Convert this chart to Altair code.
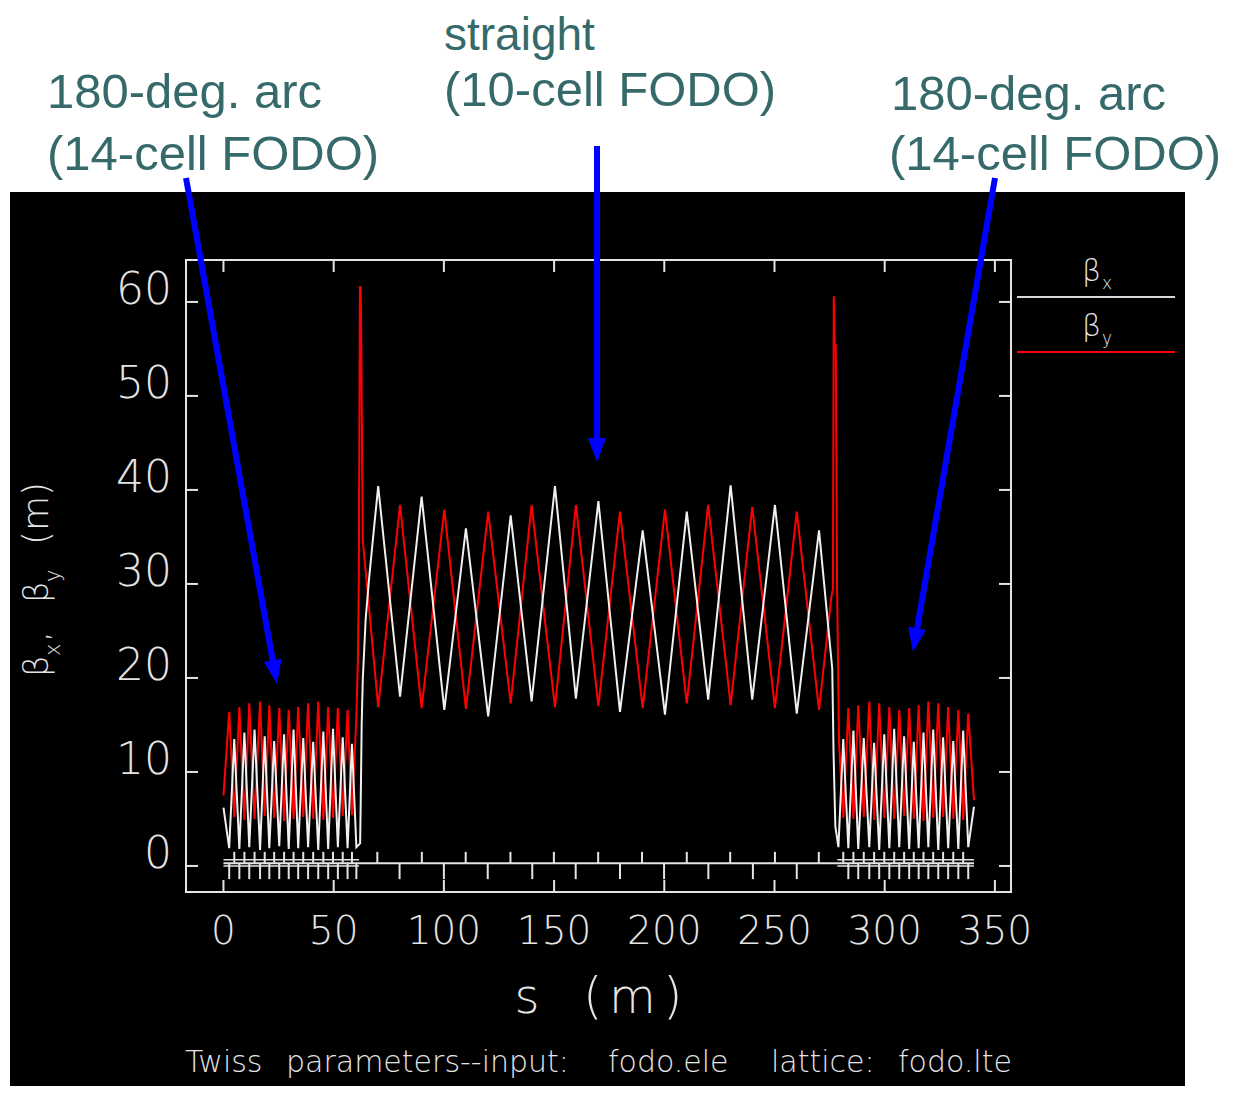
import math
import altair as alt
import pandas as pd

# ---------------- values ----------------
x_ticks = [0, 50, 100, 150, 200, 250, 300, 350]
y_ticks = [0, 10, 20, 30, 40, 50, 60]

# beta_x (white), s in m, beta in m
bx_s = [0.0, 2.6, 4.9, 7.2, 9.5, 11.7, 14.1, 16.6, 18.7, 20.8, 23.0, 25.3, 27.5, 29.6,
        31.8, 33.9, 36.2, 38.4, 40.7, 43.0, 45.3, 47.5, 49.7, 51.9, 54.1, 56.3, 58.3, 60.3,
        62.0, 62.3, 62.7, 63.2, 64.5, 66.0, 68.2,
        70.2, 80.1, 89.9, 100.2, 110.0, 120.1, 130.3, 139.8, 150.4, 159.9, 170.1,
        179.9, 190.2, 200.3, 210.2, 219.9, 230.1, 239.9, 250.2, 260.1, 270.2,
        276.2, 276.8, 277.6, 279.0,
        281.2, 283.5, 285.8, 288.0, 290.5, 293.0, 295.2, 297.5, 299.8, 302.1, 304.3,
        306.6, 308.8, 311.1, 313.2, 315.4, 317.6, 319.8, 322.0, 324.3, 326.5, 328.8,
        331.1, 333.4, 335.6, 337.9, 340.5]
bx_v = [6.2, 1.9, 13.5, 1.8, 14.2, 2.0, 14.5, 1.7, 13.8, 1.9, 13.3, 2.1, 14.0, 1.8,
        14.5, 1.9, 13.6, 2.0, 13.2, 1.7, 14.3, 1.8, 14.6, 2.0, 13.7, 1.9, 13.0, 2.0,
        2.4, 7.4, 15.0, 19.8, 26.2, 30.4, 35.7,
        40.4, 18.0, 39.3, 16.6, 35.9, 15.9, 37.3, 17.5, 40.4, 17.8, 38.8,
        16.4, 35.7, 16.1, 37.7, 17.7, 40.5, 17.7, 38.4, 16.2, 35.7,
        21.0, 12.0, 4.2, 2.0,
        13.5, 1.9, 14.4, 1.8, 13.6, 2.0, 13.1, 1.7, 14.0, 1.9, 14.6,
        2.0, 13.8, 1.8, 13.2, 1.9, 14.2, 2.0, 14.5, 1.7, 13.7, 1.9,
        13.3, 1.8, 14.4, 2.0, 6.3]

# beta_y (red)
by_s = [0.0, 2.6, 4.9, 7.2, 9.5, 11.7, 14.1, 16.6, 18.7, 20.8, 23.0, 25.3, 27.5, 29.6,
        31.8, 33.9, 36.2, 38.4, 40.7, 43.0, 45.3, 47.5, 49.7, 51.9, 54.1, 56.3, 58.3, 60.3,
        61.0, 61.4, 61.9, 62.2, 62.4, 63.2,
        70.2, 80.1, 89.9, 100.2, 110.0, 120.1, 130.3, 139.8, 150.4, 159.9, 170.1,
        179.9, 190.2, 200.3, 210.2, 219.9, 230.1, 239.9, 250.2, 260.1, 270.2,
        275.8, 276.5, 276.9, 277.3, 277.8, 278.4, 279.3,
        281.2, 283.5, 285.8, 288.0, 290.5, 293.0, 295.2, 297.5, 299.8, 302.1, 304.3,
        306.6, 308.8, 311.1, 313.2, 315.4, 317.6, 319.8, 322.0, 324.3, 326.5, 328.8,
        331.1, 333.4, 335.6, 337.9, 340.5]
by_v = [7.5, 16.4, 5.2, 16.9, 4.9, 17.3, 5.0, 17.5, 5.3, 17.1, 5.1, 16.8, 4.8, 16.6,
        5.0, 16.9, 5.2, 17.3, 5.0, 17.5, 4.9, 16.9, 5.1, 16.8, 5.3, 16.6, 5.4, 15.9,
        22.0, 30.1, 61.6, 61.6, 59.0, 34.7,
        16.9, 38.4, 16.8, 37.9, 16.7, 37.7, 17.3, 38.4, 16.9, 38.4, 17.0,
        37.7, 16.8, 37.9, 17.3, 38.4, 17.1, 38.2, 16.8, 37.7, 16.6,
        28.6, 29.5, 60.6, 55.4, 55.4, 29.4, 13.0,
        5.1, 16.8, 5.0, 17.1, 5.2, 17.5, 4.9, 17.3, 5.1, 16.9, 5.0,
        16.6, 5.3, 16.8, 5.0, 17.1, 4.8, 17.5, 5.1, 17.3, 5.2, 16.9,
        5.0, 16.6, 4.9, 16.2, 7.0]

# lattice profile (element positions, m)
qf_s = [4.9, 9.5, 14.1, 18.7, 23.0, 27.5, 31.8, 36.2, 40.7, 45.3, 49.7, 54.1, 58.3,
        69.8, 90.0, 109.9, 130.2, 149.9, 170.0, 189.9, 210.2, 229.9, 250.2, 270.1,
        281.2, 285.8, 290.5, 295.2, 299.8, 304.3, 308.8, 313.2, 317.6, 322.0, 326.5, 331.1, 335.6]
qd_s = [2.6, 7.2, 11.7, 16.6, 20.8, 25.3, 29.6, 33.9, 38.4, 43.0, 47.5, 51.9, 56.3, 60.3,
        79.9, 100.0, 119.9, 140.1, 159.8, 179.9, 199.9, 220.0, 240.2, 260.1,
        283.5, 288.0, 293.0, 297.5, 302.1, 306.6, 311.1, 315.4, 319.8, 324.3, 328.8, 333.4, 337.9]
profile_start, profile_end, profile_level = 0.0, 340.5, 0.3
qf_top, qd_bottom = 1.5, -1.4
# dipole band over the two arcs
arc_from = [0.0, 278.5]
arc_to = [61.5, 340.5]
band_levels = [0.0, 0.65]

legend_names = ["x", "y"]
annot_side = ["180-deg. arc", "(14-cell FODO)"]
annot_mid = ["straight", "(10-cell FODO)"]
caption_words = ["Twiss", "parameters--input:", "fodo.ele", "lattice:", "fodo.lte"]

# ---------------- layout ----------------
W, H = 825, 632
PAD = {"left": 178, "top": 252, "right": 222, "bottom": 194}
XS = alt.Scale(domain=[-17.0, 357.3], nice=False, zero=False)
YS = alt.Scale(domain=[-2.77, 64.46], nice=False, zero=False)

FG = "#e4e4e4"
RED = "#ff0000"
TEAL = "#366a6a"
BLUE = "#0000ff"
HF = "DejaVu Sans"      # thin, wide font for the plot texts (stroke-font look)
HW = 200
AF = "Liberation Sans"  # annotation font

one = pd.DataFrame({"k": [0]})


def txt(text, x, y, size, color=FG, font=HF, align="left", baseline="alphabetic",
        angle=0, weight=HW):
    return alt.Chart(one).mark_text(
        text=text, align=align, baseline=baseline, fontSize=size, font=font,
        color=color, angle=angle, fontWeight=weight
    ).encode(x=alt.value(x), y=alt.value(y))


def seg(x1, y1, x2, y2, color, width):
    return alt.Chart(one).mark_rule(color=color, strokeWidth=width).encode(
        x=alt.value(x1), y=alt.value(y1), x2=alt.value(x2), y2=alt.value(y2))


def arrow(x1, y1, xt, yt, head=12):
    dx, dy = xt - x1, yt - y1
    L = math.hypot(dx, dy)
    ux, uy = dx / L, dy / L
    cx, cy = xt - head * ux, yt - head * uy
    ang = (-math.degrees(math.asin(ux))) % 360
    shaft = seg(x1, y1, cx, cy, BLUE, 6)
    tip = alt.Chart(one).mark_point(
        shape="M -0.75 -1 L 0.75 -1 L 0 1 Z", size=(2 * head) ** 2, filled=True,
        color=BLUE, opacity=1, angle=ang, strokeWidth=0
    ).encode(x=alt.value(cx), y=alt.value(cy))
    return shaft + tip


layers = []

# black panel
layers.append(alt.Chart(one).mark_rect(color="black").encode(
    x=alt.value(-176), x2=alt.value(999), y=alt.value(-68), y2=alt.value(900)))

# lattice profile
df_base = pd.DataFrame({"s0": [profile_start], "s1": [profile_end], "b": [profile_level]})
layers.append(alt.Chart(df_base).mark_rule(color=FG, strokeWidth=2).encode(
    x=alt.X("s0:Q", scale=XS, axis=None), x2="s1:Q",
    y=alt.Y("b:Q", scale=YS, axis=None)))
df_band = pd.DataFrame([{"s0": a, "s1": b, "b": lv}
                        for a, b in zip(arc_from, arc_to) for lv in band_levels])
layers.append(alt.Chart(df_band).mark_rule(color=FG, strokeWidth=1.5).encode(
    x=alt.X("s0:Q", scale=XS, axis=None), x2="s1:Q",
    y=alt.Y("b:Q", scale=YS, axis=None)))
df_qf = pd.DataFrame({"s": qf_s, "b0": profile_level, "b1": qf_top})
layers.append(alt.Chart(df_qf).mark_rule(color=FG, strokeWidth=2).encode(
    x=alt.X("s:Q", scale=XS, axis=None),
    y=alt.Y("b0:Q", scale=YS, axis=None), y2="b1:Q"))
df_qd = pd.DataFrame({"s": qd_s, "b0": profile_level, "b1": qd_bottom})
layers.append(alt.Chart(df_qd).mark_rule(color=FG, strokeWidth=2).encode(
    x=alt.X("s:Q", scale=XS, axis=None),
    y=alt.Y("b0:Q", scale=YS, axis=None), y2="b1:Q"))

# beta functions
df_by = pd.DataFrame({"s": by_s, "b": by_v, "i": list(range(len(by_s)))})
df_bx = pd.DataFrame({"s": bx_s, "b": bx_v, "i": list(range(len(bx_s)))})
layers.append(alt.Chart(df_by).mark_line(color=RED, strokeWidth=2).encode(
    x=alt.X("s:Q", scale=XS, axis=None), y=alt.Y("b:Q", scale=YS, axis=None),
    order="i:Q"))
layers.append(alt.Chart(df_bx).mark_line(color="#f0f0f0", strokeWidth=2).encode(
    x=alt.X("s:Q", scale=XS, axis=None), y=alt.Y("b:Q", scale=YS, axis=None),
    order="i:Q"))

# frame
layers.append(alt.Chart(one).mark_rect(fillOpacity=0, stroke=FG, strokeWidth=2).encode(
    x=alt.value(0), x2=alt.value(W), y=alt.value(0), y2=alt.value(H)))

# inward ticks on all four sides
df_xt = pd.DataFrame({"v": x_ticks, "lab": [str(t) for t in x_ticks]})
df_yt = pd.DataFrame({"v": y_ticks, "lab": [str(t) for t in y_ticks]})
for y1, y2 in [(H, H - 12), (0, 12)]:
    layers.append(alt.Chart(df_xt).mark_rule(color=FG, strokeWidth=2).encode(
        x=alt.X("v:Q", scale=XS, axis=None), y=alt.value(y1), y2=alt.value(y2)))
for x1, x2 in [(0, 12), (W, W - 12)]:
    layers.append(alt.Chart(df_yt).mark_rule(color=FG, strokeWidth=2).encode(
        y=alt.Y("v:Q", scale=YS, axis=None), x=alt.value(x1), x2=alt.value(x2)))

# tick labels
layers.append(alt.Chart(df_xt).mark_text(
    align="center", baseline="alphabetic", fontSize=39, font=HF, fontWeight=HW, color=FG
).encode(x=alt.X("v:Q", scale=XS, axis=None), y=alt.value(H + 52), text="lab:N"))
layers.append(alt.Chart(df_yt).mark_text(
    align="right", baseline="alphabetic", fontSize=44, font=HF, fontWeight=HW, color=FG, dy=2
).encode(y=alt.Y("v:Q", scale=YS, axis=None), x=alt.value(-14), text="lab:N"))

# axis titles
layers.append(txt("s", 341, 753, 48, align="center"))
layers.append(txt("(", 397, 753, 50))
layers.append(txt("m", 423, 753, 48))
layers.append(txt(")", 477, 753, 50))
layers.append(txt("β", -138, 417, 34, angle=270))
layers.append(txt(legend_names[0], -126, 396, 21, angle=270))
layers.append(txt(",", -138, 382, 34, angle=270))
layers.append(txt("β", -138, 343, 34, angle=270))
layers.append(txt(legend_names[1], -126, 322, 21, angle=270))
layers.append(txt("(m)", -138, 285, 36, angle=270))

# legend
layers.append(seg(831, 37, 989, 37, "#d8d8d8", 2))
layers.append(seg(831, 92, 989, 92, RED, 2))
layers.append(txt("β", 896, 21, 30))
layers.append(txt(legend_names[0], 916, 29, 17))
layers.append(txt("β", 896, 76, 30))
layers.append(txt(legend_names[1], 916, 84, 17))

# caption (word by word, as spaced in the reference)
for word, xw in zip(caption_words, [-1, 100, 422, 585, 712]):
    layers.append(txt(word, xw, 812, 30))

# annotations above the panel
layers.append(txt(annot_side[0], -139, -152, 49, color=TEAL, font=AF, weight="normal"))
layers.append(txt(annot_side[1], -139, -90, 49, color=TEAL, font=AF, weight="normal"))
layers.append(txt(annot_mid[0], 258, -210, 46, color=TEAL, font=AF, weight="normal"))
layers.append(txt(annot_mid[1], 258, -154, 49, color=TEAL, font=AF, weight="normal"))
layers.append(txt(annot_side[0], 705, -150, 49, color=TEAL, font=AF, weight="normal"))
layers.append(txt(annot_side[1], 703, -90, 49, color=TEAL, font=AF, weight="normal"))

layers.append(arrow(0, -82, 91, 424))
layers.append(arrow(411, -114, 411, 202))
layers.append(arrow(809, -82, 727, 392))

chart = alt.layer(*layers).properties(
    width=W, height=H, padding=PAD, background="white",
    autosize=alt.AutoSizeParams(type="none")
).configure_view(strokeWidth=0)

chart.save("out.html", embed_options={"renderer": "svg", "actions": False})
